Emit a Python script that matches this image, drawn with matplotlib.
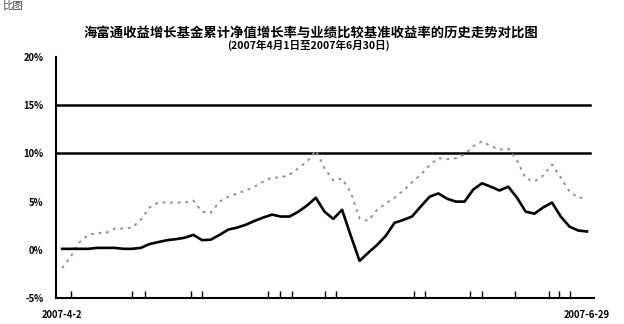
import matplotlib
matplotlib.use("Agg")
import matplotlib.pyplot as plt
from matplotlib.ticker import FixedLocator, FuncFormatter

plt.rcParams['font.family'] = ['Noto Sans CJK SC', 'DejaVu Sans']

title_main = "海富通收益增长基金累计净值增长率与业绩比较基准收益率的历史走势对比图"
title_sub = "(2007年4月1日至2007年6月30日)"
corner_text = "比图"

date_labels = ["2007-4-2", "2007-6-29"]

# cumulative net value growth (%), one value per trading day
nav_growth = [
    0.1, 0.1, 0.1, 0.1, 0.2, 0.2, 0.2, 0.1, 0.1, 0.2,
    0.6, 0.8, 1.0, 1.1, 1.25, 1.55, 1.0, 1.05, 1.55, 2.1,
    2.3, 2.6, 3.0, 3.35, 3.65, 3.45, 3.45, 3.95, 4.6, 5.4,
    3.95, 3.2, 4.15, 1.45, -1.15, -0.3, 0.5, 1.45, 2.8, 3.1,
    3.45, 4.5, 5.5, 5.85, 5.3, 5.0, 5.0, 6.25, 6.9, 6.55,
    6.15, 6.55, 5.4, 3.95, 3.75, 4.4, 4.9, 3.45, 2.4, 2.0,
    1.9,
]

# benchmark return (%), one value per trading day
benchmark = [
    -1.9, -0.7, 0.8, 1.55, 1.75, 1.75, 2.2, 2.2, 2.3, 3.1,
    4.4, 4.9, 4.9, 4.9, 4.9, 5.1, 3.95, 3.85, 5.0, 5.5,
    5.85, 6.15, 6.55, 7.1, 7.5, 7.5, 7.8, 8.45, 9.15, 10.3,
    8.45, 7.2, 7.4, 5.95, 3.25, 3.0, 4.15, 4.8, 5.4, 6.15,
    7.0, 7.8, 8.75, 9.5, 9.4, 9.5, 9.9, 10.75, 11.25, 10.75,
    10.4, 10.5, 9.25, 7.4, 7.1, 7.7, 8.85, 7.5, 6.05, 5.4,
    5.4,
]

ref_levels = [10, 15]
y_ticks = [-5, 0, 5, 10, 15, 20]
inner_ticks = [1, 8, 9.5, 14.7, 16, 23.5, 24.9, 26.3, 30.1, 31.3,
               40.2, 41.5, 46.6, 48, 51.8, 55.6, 56.8, 58.1]

days = list(range(len(nav_growth)))

fig = plt.figure(figsize=(6.24, 3.24), dpi=100)
fig.patch.set_facecolor("white")
ax = fig.add_axes([56 / 624, 26 / 324, 538 / 624, 241 / 324])

for lvl in ref_levels:
    ax.axhline(lvl, xmin=0, xmax=0.993, color="black", lw=1.8, zorder=2)

ax.plot(days, benchmark, color="#939393", lw=1.4, ls=(0, (1.5, 2.4)), zorder=3)
ax.plot(days, nav_growth, color="black", lw=1.9, zorder=4)

ax.set_xlim(-0.7, 60.8)
ax.set_ylim(-5, 20)

for side in ("top", "right"):
    ax.spines[side].set_visible(False)
for side in ("left", "bottom"):
    ax.spines[side].set_linewidth(1.5)
    ax.spines[side].set_color("black")

ax.yaxis.set_major_locator(FixedLocator(y_ticks))
ax.yaxis.set_major_formatter(FuncFormatter(lambda v, _: f"{v:.0f}%"))
ax.tick_params(axis="y", length=0, pad=9, labelsize=6.8)
for lbl in ax.get_yticklabels():
    lbl.set_fontweight("bold")

ax.set_xticks([0, 60])
ax.set_xticklabels(date_labels, fontsize=6.8, fontweight="bold")
ax.tick_params(axis="x", which="major", length=0, pad=9)
ax.xaxis.set_minor_locator(FixedLocator(inner_ticks))
ax.tick_params(axis="x", which="minor", direction="in", length=5, width=1, color="black")

fig.text(0.498, 1 - 33 / 324, title_main, ha="center", va="center",
         fontsize=9.6, fontweight="bold")
fig.text(0.494, 1 - 45 / 324, title_sub, ha="center", va="center",
         fontsize=7.6, fontweight="bold")
fig.text(0.004, 0.998, corner_text, ha="left", va="top", fontsize=7.5, color="#444444")

fig.savefig("out.png", dpi=100, facecolor="white")
